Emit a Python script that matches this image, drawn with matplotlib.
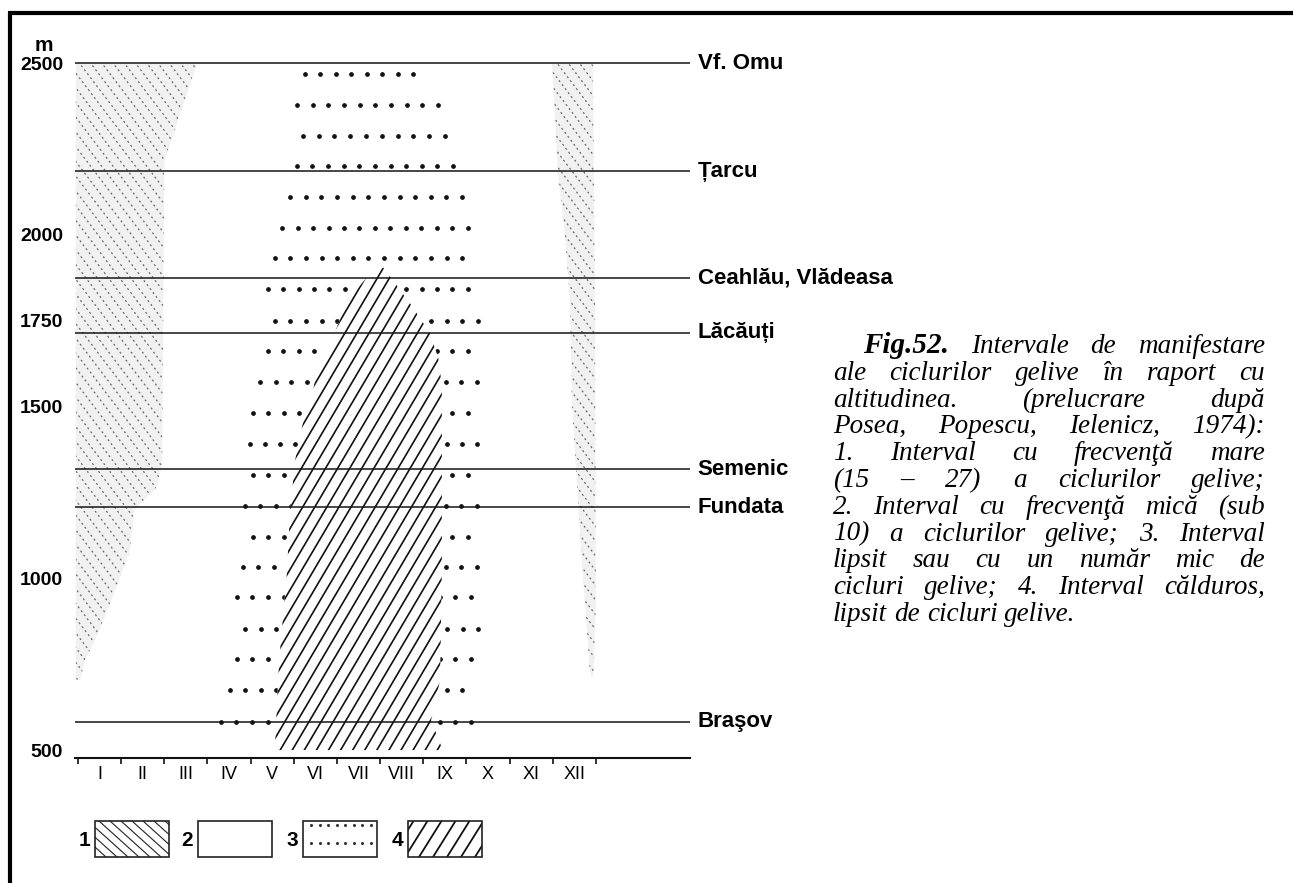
import numpy as np
import matplotlib.pyplot as plt
from matplotlib.patches import Polygon, Rectangle

W, H = 1293, 883
plt.rcParams['font.family'] = ['Liberation Sans', 'DejaVu Sans']

# reference summits / places and their altitude (m)
places = ["Vf. Omu", "Țarcu", "Ceahlău, Vlădeasa", "Lăcăuți", "Semenic", "Fundata", "Braşov"]
place_alt = [2500, 2185, 1875, 1715, 1318, 1207, 582]

months = ["I", "II", "III", "IV", "V", "VI", "VII", "VIII", "IX", "X", "XI", "XII"]
alt_ticks = [500, 1000, 1500, 1750, 2000, 2500]

# 1 - high frequency of frost cycles, winter band (month, altitude)
winter_m = [-0.05, 2.76, 2.00, 1.95, 1.80, 1.30, 1.20, 0.86, 0.50, 0.16, 0.05, -0.05]
winter_alt = [2500, 2500, 2215, 1330, 1260, 1200, 1080, 966, 850, 760, 705, 705]

# 1 - high frequency, December band
dec_m = [10.98, 11.93, 11.98, 12.00, 11.95, 11.91, 11.86, 11.74, 11.67, 11.44, 11.40, 11.28, 11.12]
dec_alt = [2500, 2500, 1810, 937, 730, 708, 730, 937, 1053, 1519, 1810, 2000, 2180]

# 4 - warm interval, without frost cycles
warm_m = [4.56, 4.66, 4.84, 4.91, 5.03, 5.21, 5.42, 5.54, 5.90, 6.25, 6.65, 7.07,
          7.40, 7.75, 8.15, 8.35, 8.43, 8.43, 8.39, 8.18, 8.45]
warm_alt = [500, 762, 1015, 1190, 1344, 1452, 1528, 1612, 1700, 1810, 1870, 1905,
            1850, 1790, 1715, 1640, 1560, 1033, 704, 587, 500]

# 3 - few or no frost cycles: rows of dots (altitude, first month, last month)
dot_alt = [2468, 2378, 2287, 2200, 2110, 2020, 1932, 1842, 1749, 1662, 1571,
           1481, 1391, 1301, 1210, 1120, 1033, 945, 852, 765, 675, 582]
dot_left = [5.26, 5.07, 5.21, 5.07, 4.91, 4.73, 4.56, 4.40, 4.56, 4.40, 4.22,
            4.05, 3.98, 4.05, 3.87, 4.05, 3.82, 3.68, 3.87, 3.68, 3.52, 3.31]
dot_right = [7.76, 8.34, 8.50, 8.69, 8.90, 9.03, 8.90, 9.03, 9.27, 9.03, 9.24,
             9.03, 9.24, 9.03, 9.24, 9.03, 9.24, 9.10, 9.27, 9.10, 8.90, 9.10]

caption = [
    ["Fig.52.", "Intervale", "de", "manifestare"],
    ["ale", "ciclurilor", "gelive", "în", "raport", "cu"],
    ["altitudinea.", "(prelucrare", "după"],
    ["Posea,", "Popescu,", "Ielenicz,", "1974):"],
    ["1.", "Interval", "cu", "frecvenţă", "mare"],
    ["(15", "–", "27)", "a", "ciclurilor", "gelive;"],
    ["2.", "Interval", "cu", "frecvenţă", "mică", "(sub"],
    ["10)", "a", "ciclurilor", "gelive;", "3.", "Interval"],
    ["lipsit", "sau", "cu", "un", "număr", "mic", "de"],
    ["cicluri", "gelive;", "4.", "Interval", "călduros,"],
    ["lipsit", "de", "cicluri", "gelive."],
]


def hatched(ax, xs, ys, slope, step, face, zorder, **kw):
    poly = Polygon(np.column_stack([xs, ys]), closed=True, facecolor=face,
                   edgecolor='none', zorder=zorder)
    ax.add_patch(poly)
    y0, y1 = min(ys), max(ys)
    span = (y1 - y0) / slope
    lo = min(xs) - abs(span) - step
    hi = max(xs) + abs(span) + step
    for c in np.arange(lo, hi, step):
        ln, = ax.plot([c, c + span], [y0, y1], zorder=zorder + 0.1, **kw)
        ln.set_clip_path(poly)
    return poly


fig = plt.figure(figsize=(W / 100, H / 100), dpi=100)

ax = fig.add_axes([75 / W, (H - 758) / H, 615 / W, (758 - 21.9) / H])
ax.set_xlim(-0.07, 14.18)
ax.set_ylim(477, 2620)
for s in ("top", "right", "left"):
    ax.spines[s].set_visible(False)
ax.spines["bottom"].set_linewidth(1.5)
ax.spines["bottom"].set_color("#111111")

# frost intervals
grey_dash = dict(color="#6a6a6a", lw=0.9, dashes=(1.6, 2.4))
hatched(ax, winter_m, winter_alt, -165, 0.26, "#f1f1f1", 1, **grey_dash)
hatched(ax, dec_m, dec_alt, -165, 0.26, "#f1f1f1", 1, **grey_dash)

for a, l, r in zip(dot_alt, dot_left, dot_right):
    n = int(round((r - l) / 0.357)) + 1
    ax.plot(np.linspace(l, r, n), [a] * n, ls="none", marker="o", ms=2.4,
            color="#111111", zorder=1.5)

hatched(ax, warm_m, warm_alt, 213, 0.28, "white", 2, color="#111111", lw=1.2)

for name, a in zip(places, place_alt):
    ax.axhline(a, color="#151515", lw=1.1, zorder=4)
    ax.text(14.36, a, name, ha="left", va="center", fontsize=16,
            fontweight="bold", clip_on=False)

ax.set_xticks(range(13))
ax.set_xticklabels([])
ax.set_xticks(np.arange(0.5, 12), minor=True)
ax.set_xticklabels(months, minor=True, fontsize=13,
                   family=["Liberation Sans Narrow", "Liberation Sans"])
ax.tick_params(axis="x", which="major", direction="out", length=4, width=1.2,
               color="#111111")
ax.tick_params(axis="x", which="minor", length=0, pad=6)
ax.set_yticks(alt_ticks)
ax.set_yticklabels([str(v) for v in alt_ticks], fontsize=14, fontweight="bold")
ax.tick_params(axis="y", length=0, pad=8.6)
ax.set_ylabel("m", rotation=0, fontsize=15, fontweight="bold", va="center", ha="center")
ax.yaxis.set_label_coords(-0.050, 0.9686)

# overlay in pixel coordinates: frame, legend and caption
ov = fig.add_axes([0, 0, 1, 1], zorder=5)
ov.set_xlim(0, W)
ov.set_ylim(H, 0)
ov.axis("off")
ov.patch.set_visible(False)

ov.plot([8, W], [13, 13], color="black", lw=3.0, solid_capstyle="butt")
ov.plot([9.5, 9.5], [11.5, H], color="black", lw=3.0, solid_capstyle="butt")

boxes = [(95, "1"), (198, "2"), (303, "3"), (408, "4")]
bw, by0, by1 = 74, 821, 857
for x, lab in boxes:
    ov.text(x - 5, 840, lab, ha="right", va="center", fontsize=15, fontweight="bold")
    bx = [x, x + bw, x + bw, x]
    byy = [by0, by0, by1, by1]
    if lab == "1":
        hatched(ov, bx, byy, 0.9, 11, "white", 1, color="#222222", lw=0.8)
    elif lab == "4":
        hatched(ov, bx, byy, -1.6, 14, "white", 1, color="#111111", lw=1.3)
    elif lab == "3":
        for yy in (825, 843):
            xs = np.arange(x + 8, x + bw - 3, 8.5)
            ov.plot(xs, [yy] * len(xs), ls="none", marker="o", ms=1.2, color="#333333")
    ov.add_patch(Rectangle((x, by0), bw, by1 - by0, fill=False,
                           edgecolor="#222222", lw=1.2, zorder=3))

# justified caption
fig.canvas.draw()
renderer = fig.canvas.get_renderer()
cx0, cx1, base0, lead = 833, 1265, 353, 26.8
for i, words in enumerate(caption):
    y = base0 + i * lead
    left = 863 if i == 0 else cx0
    texts = []
    for w in words:
        if w == "Fig.52.":
            t = ov.text(0, y, w, fontsize=21, fontweight="bold", style="italic",
                        family="Liberation Serif", va="baseline")
        else:
            t = ov.text(0, y, w, fontsize=19.5, style="italic",
                        family="Liberation Serif", va="baseline")
        texts.append(t)
    widths = [t.get_window_extent(renderer).width for t in texts]
    if i == len(caption) - 1:
        gap = 7
    else:
        gap = (cx1 - left - sum(widths)) / (len(words) - 1)
    x = left
    for t, wd in zip(texts, widths):
        t.set_x(x)
        x += wd + gap

fig.savefig("out.png", dpi=100)
